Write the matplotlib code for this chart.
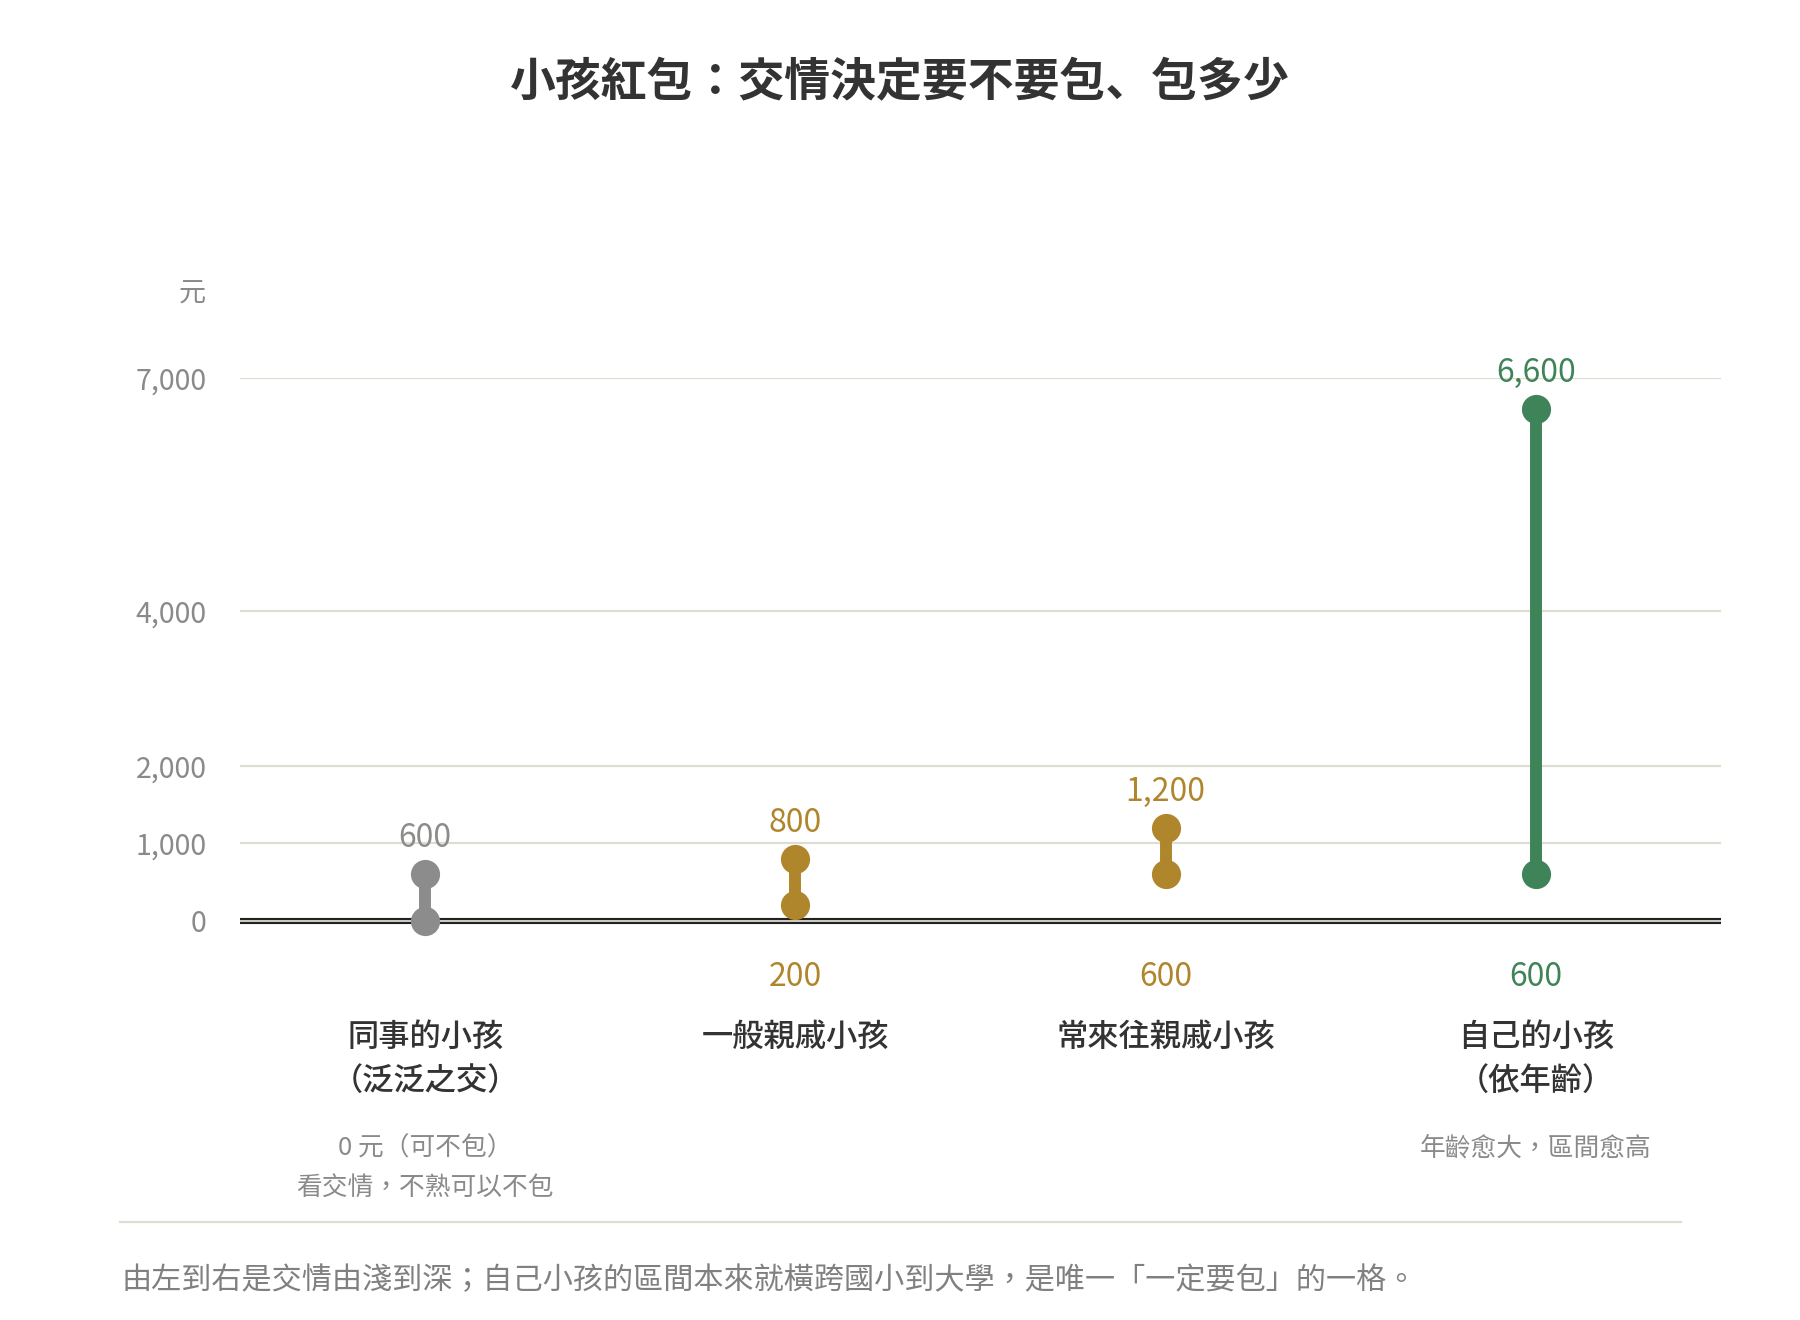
import matplotlib
matplotlib.use('Agg')
import matplotlib.pyplot as plt
import matplotlib.transforms as mtransforms

plt.rcParams['font.family'] = ['Noto Sans CJK TC', 'DejaVu Sans']
# the TC face only comes in Regular here, so bold text uses the JP bold/medium faces
BOLD_FAMILY = ['Noto Sans CJK JP', 'DejaVu Sans']

# data
categories = ['同事的小孩\n（泛泛之交）', '一般親戚小孩', '常來往親戚小孩', '自己的小孩\n（依年齡）']
low_values = [0, 200, 600, 600]
high_values = [600, 800, 1200, 6600]
notes = ['0 元（可不包）\n看交情，不熟可以不包', '', '', '年齡愈大，區間愈高']
colors = ['#8C8C8C', '#B0862C', '#B0862C', '#3F8459']
yticks = [0, 1000, 2000, 4000, 7000]
title = '小孩紅包：交情決定要不要包、包多少'
footnote = '由左到右是交情由淺到深；自己小孩的區間本來就橫跨國小到大學，是唯一「一定要包」的一格。'

W, H = 1800, 1320
ax_left, ax_right, ax_top, ax_bottom = 240, 1721, 378, 921
ax_h = ax_bottom - ax_top

fig = plt.figure(figsize=(18, 13.2), dpi=100)
ax = fig.add_axes([ax_left / W, 1 - ax_bottom / H, (ax_right - ax_left) / W, ax_h / H])

grid_color = '#DFDCD2'
text_dark = '#333333'
text_gray = '#8A8A8A'

ax.set_xlim(-0.5, len(categories) - 0.5)
ax.set_ylim(0, 7000)
for v in yticks[1:]:
    ax.axhline(v, color=grid_color, lw=1.6, zorder=1)
# double baseline
ax.axhline(0, color='#222222', lw=4.4, zorder=2, clip_on=False, solid_capstyle='butt')
ax.axhline(0, color=grid_color, lw=1.3, zorder=2.5, clip_on=False, solid_capstyle='butt')

ax.set_yticks(yticks)
ax.set_yticklabels([f'{v:,}' for v in yticks], fontsize=20.5, color=text_gray)
ax.tick_params(axis='y', length=0, pad=24)
ax.set_xticks([])
for s in ax.spines.values():
    s.set_visible(False)

trans = mtransforms.blended_transform_factory(ax.transData, ax.transAxes)


def below(px):
    # axes fraction for a pixel row below the axes bottom
    return -(px - ax_bottom) / ax_h


for i, cat in enumerate(categories):
    c = colors[i]
    ax.plot([i, i], [low_values[i], high_values[i]], color=c, lw=8.6,
            solid_capstyle='butt', zorder=3, clip_on=False)
    ax.plot([i, i], [low_values[i], high_values[i]], 'o', color=c, ms=21,
            mec='none', zorder=4, clip_on=False)
    ax.annotate(f'{high_values[i]:,}', (i, high_values[i]), xytext=(0, 26),
                textcoords='offset points', ha='center', va='center',
                fontsize=23, color=c, zorder=5)
    if low_values[i] > 0:
        ax.text(i, below(977), f'{low_values[i]:,}', transform=trans,
                ha='center', va='center', fontsize=23, color=c)
    for j, line in enumerate(cat.split('\n')):
        ax.text(i, below(1037 + 44 * j), line, transform=trans,
                ha='center', va='center', fontsize=22.5, color=text_dark,
                family=BOLD_FAMILY, fontweight='medium')
    if notes[i]:
        for j, line in enumerate(notes[i].split('\n')):
            ax.text(i, below(1149 + 40 * j), line, transform=trans,
                    ha='center', va='center', fontsize=18.5, color=text_gray)

fig.text(206 / W, 1 - 294 / H, '元', ha='right', va='center', fontsize=19.5,
         color=text_gray)
fig.text(0.5, 1 - 83 / H, title, ha='center', va='center', fontsize=33,
         family=BOLD_FAMILY, fontweight='bold', color=text_dark)

fig.add_artist(plt.Line2D([120 / W, 1681 / W], [1 - 1222 / H, 1 - 1222 / H],
                          color=grid_color, lw=1.6, transform=fig.transFigure))
fig.text(122 / W, 1 - 1281 / H, footnote, ha='left', va='center', fontsize=21.7,
         color='#808080')

fig.savefig('out.png', dpi=100, facecolor='white')
